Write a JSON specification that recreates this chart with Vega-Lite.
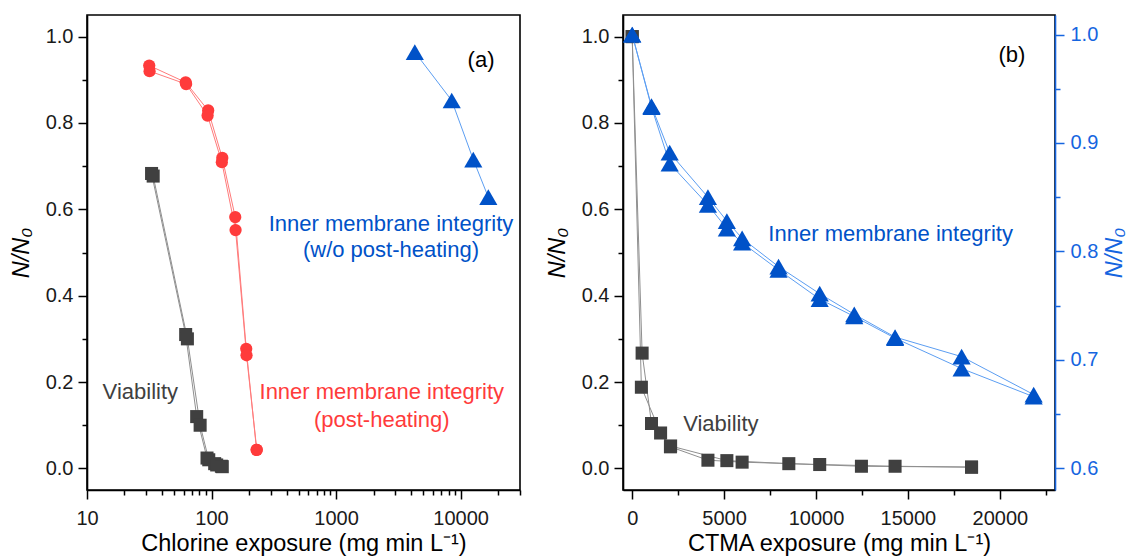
{
  "$schema": "https://vega.github.io/schema/vega-lite/v6.json",
  "padding": {"left": 8, "top": 14, "right": 0, "bottom": 0},
  "background": "white",
  "config": {
    "font": "Liberation Sans",
    "view": {"stroke": "#000000", "strokeWidth": 1.6},
    "axis": {
      "grid": false, "labelFlush": false, "labelOverlap": false,
      "labelFontSize": 20, "titleFontSize": 23.5, "titleFontWeight": "normal",
      "labelColor": "#1a1a1a", "titleColor": "#000000", "domainColor": "#000000", "tickColor": "#000000",
      "domainWidth": 1.6, "tickWidth": 1.5, "labelPadding": 5, "titlePadding": 6
    }
  },
  "datasets": {
    "a_pts": [
      {"series": "Viability", "rep": "v1", "x": 33, "y": 0.683},
      {"series": "Viability", "rep": "v1", "x": 62, "y": 0.31},
      {"series": "Viability", "rep": "v1", "x": 76, "y": 0.12},
      {"series": "Viability", "rep": "v1", "x": 92, "y": 0.024},
      {"series": "Viability", "rep": "v1", "x": 106, "y": 0.011},
      {"series": "Viability", "rep": "v1", "x": 120, "y": 0.005},
      {"series": "Viability", "rep": "v2", "x": 34, "y": 0.677},
      {"series": "Viability", "rep": "v2", "x": 64, "y": 0.30},
      {"series": "Viability", "rep": "v2", "x": 81, "y": 0.10},
      {"series": "Viability", "rep": "v2", "x": 95, "y": 0.02},
      {"series": "Viability", "rep": "v2", "x": 110, "y": 0.008},
      {"series": "Viability", "rep": "v2", "x": 122, "y": 0.004},
      {"series": "IMI post", "rep": "r1", "x": 31.6, "y": 0.933},
      {"series": "IMI post", "rep": "r1", "x": 62, "y": 0.894},
      {"series": "IMI post", "rep": "r1", "x": 94, "y": 0.829},
      {"series": "IMI post", "rep": "r1", "x": 122, "y": 0.719},
      {"series": "IMI post", "rep": "r1", "x": 155, "y": 0.582},
      {"series": "IMI post", "rep": "r1", "x": 190, "y": 0.277},
      {"series": "IMI post", "rep": "r1", "x": 230, "y": 0.043},
      {"series": "IMI post", "rep": "r2", "x": 31.8, "y": 0.92},
      {"series": "IMI post", "rep": "r2", "x": 62.5, "y": 0.89},
      {"series": "IMI post", "rep": "r2", "x": 93, "y": 0.817},
      {"series": "IMI post", "rep": "r2", "x": 121, "y": 0.709},
      {"series": "IMI post", "rep": "r2", "x": 156, "y": 0.552},
      {"series": "IMI post", "rep": "r2", "x": 191, "y": 0.262},
      {"series": "IMI post", "rep": "r2", "x": 231, "y": 0.043},
      {"series": "IMI wo", "rep": "b1", "x": 4290, "y": 0.964},
      {"series": "IMI wo", "rep": "b1", "x": 8490, "y": 0.852},
      {"series": "IMI wo", "rep": "b1", "x": 12650, "y": 0.715},
      {"series": "IMI wo", "rep": "b1", "x": 16700, "y": 0.628}
    ],
    "a_txt": [
      {"series": "label", "x": 14600, "y": 0.945, "t": "(a)"},
      {"series": "IMI wo", "x": 2760, "y": 0.567, "t": "Inner membrane integrity"},
      {"series": "IMI wo", "x": 2760, "y": 0.505, "t": "(w/o post-heating)"},
      {"series": "IMI post", "x": 2330, "y": 0.176, "t": "Inner membrane integrity"},
      {"series": "IMI post", "x": 2330, "y": 0.111, "t": "(post-heating)"},
      {"series": "Viability", "x": 26.8, "y": 0.176, "t": "Viability"}
    ],
    "b_via": [
      {"series": "Viability", "rep": "v1", "x": 0, "y": 1.0},
      {"series": "Viability", "rep": "v1", "x": 540, "y": 0.267},
      {"series": "Viability", "rep": "v1", "x": 1050, "y": 0.104},
      {"series": "Viability", "rep": "v1", "x": 2080, "y": 0.05},
      {"series": "Viability", "rep": "v1", "x": 4120, "y": 0.019},
      {"series": "Viability", "rep": "v1", "x": 5980, "y": 0.0145},
      {"series": "Viability", "rep": "v1", "x": 10200, "y": 0.009},
      {"series": "Viability", "rep": "v1", "x": 14300, "y": 0.005},
      {"series": "Viability", "rep": "v1", "x": 18460, "y": 0.003},
      {"series": "Viability", "rep": "v2", "x": 0, "y": 1.0},
      {"series": "Viability", "rep": "v2", "x": 500, "y": 0.188},
      {"series": "Viability", "rep": "v2", "x": 1545, "y": 0.082},
      {"series": "Viability", "rep": "v2", "x": 2090, "y": 0.052},
      {"series": "Viability", "rep": "v2", "x": 5150, "y": 0.018},
      {"series": "Viability", "rep": "v2", "x": 8520, "y": 0.011},
      {"series": "Viability", "rep": "v2", "x": 12470, "y": 0.005},
      {"series": "Viability", "rep": "v2", "x": 18460, "y": 0.003}
    ],
    "b_imi": [
      {"series": "IMI wo", "rep": "b1", "x": 0, "y": 1.0},
      {"series": "IMI wo", "rep": "b1", "x": 1050, "y": 0.934},
      {"series": "IMI wo", "rep": "b1", "x": 2040, "y": 0.891},
      {"series": "IMI wo", "rep": "b1", "x": 4120, "y": 0.85},
      {"series": "IMI wo", "rep": "b1", "x": 5150, "y": 0.828},
      {"series": "IMI wo", "rep": "b1", "x": 5980, "y": 0.812},
      {"series": "IMI wo", "rep": "b1", "x": 7960, "y": 0.786},
      {"series": "IMI wo", "rep": "b1", "x": 10200, "y": 0.761},
      {"series": "IMI wo", "rep": "b1", "x": 12080, "y": 0.742},
      {"series": "IMI wo", "rep": "b1", "x": 14300, "y": 0.721},
      {"series": "IMI wo", "rep": "b1", "x": 17920, "y": 0.703},
      {"series": "IMI wo", "rep": "b1", "x": 21840, "y": 0.668},
      {"series": "IMI wo", "rep": "b2", "x": 0, "y": 1.0},
      {"series": "IMI wo", "rep": "b2", "x": 1050, "y": 0.933},
      {"series": "IMI wo", "rep": "b2", "x": 2040, "y": 0.881},
      {"series": "IMI wo", "rep": "b2", "x": 4120, "y": 0.843},
      {"series": "IMI wo", "rep": "b2", "x": 5150, "y": 0.821},
      {"series": "IMI wo", "rep": "b2", "x": 5980, "y": 0.808},
      {"series": "IMI wo", "rep": "b2", "x": 7960, "y": 0.783},
      {"series": "IMI wo", "rep": "b2", "x": 10200, "y": 0.756},
      {"series": "IMI wo", "rep": "b2", "x": 12080, "y": 0.74},
      {"series": "IMI wo", "rep": "b2", "x": 14300, "y": 0.72},
      {"series": "IMI wo", "rep": "b2", "x": 17920, "y": 0.692},
      {"series": "IMI wo", "rep": "b2", "x": 21840, "y": 0.666}
    ],
    "b_txt": [
      {"series": "label", "x": 20660, "y": 0.957, "t": "(b)"},
      {"series": "IMI wo", "x": 14060, "y": 0.543, "t": "Inner membrane integrity"},
      {"series": "Viability", "x": 4825, "y": 0.102, "t": "Viability"}
    ]
  },
  "hconcat": [
    {
      "width": 433, "height": 475,
      "encoding": {
        "x": {"field": "x", "type": "quantitative",
          "scale": {"type": "log", "domain": [10, 30000], "nice": false},
          "axis": {"title": "Chlorine exposure (mg min L⁻¹)", "labelPadding": 9, "titlePadding": 3,
            "values": [10,20,30,40,50,60,70,80,90,100,200,300,400,500,600,700,800,900,1000,2000,3000,4000,5000,6000,7000,8000,9000,10000,20000,30000],
            "labelExpr": "(datum.value==10||datum.value==100||datum.value==1000||datum.value==10000) ? format(datum.value,'d') : ''",
            "tickSize": {"condition": {"test": "datum.value==10||datum.value==100||datum.value==1000||datum.value==10000", "value": 9}, "value": 5}}},
        "y": {"field": "y", "type": "quantitative",
          "scale": {"domain": [-0.05, 1.05], "nice": false, "zero": false},
          "axis": {"title": "N/N₀", "titleFontStyle": "italic", "titlePadding": 12,
            "values": [0,0.1,0.2,0.3,0.4,0.5,0.6,0.7,0.8,0.9,1.0],
            "labelExpr": "round(datum.value*10)%2==0 ? format(datum.value,'.1f') : ''",
            "tickSize": {"condition": {"test": "round(datum.value*10)%2==0", "value": 9}, "value": 5}}}
      },
      "layer": [
        {"data": {"name": "a_pts"}, "mark": {"type": "line", "strokeWidth": 1},
          "encoding": {"stroke": {"field": "series", "type": "nominal", "legend": null,
            "scale": {"domain": ["Viability","IMI post","IMI wo","label"], "range": ["#8f8f8f","#ff7b7b","#5c9ef2","#000000"]}},
            "detail": {"field": "rep"}}},
        {"data": {"name": "a_pts"}, "mark": {"type": "point", "filled": true, "opacity": 1, "strokeWidth": 0},
          "encoding": {"fill": {"field": "series", "type": "nominal", "legend": null,
            "scale": {"domain": ["Viability","IMI post","IMI wo","label"], "range": ["#404040","#ff3b3b","#0052c8","#000000"]}},
            "shape": {"field": "series", "type": "nominal", "legend": null,
            "scale": {"domain": ["Viability","IMI post","IMI wo"], "range": ["square","circle","triangle-up"]}},
            "size": {"field": "series", "type": "nominal", "legend": null,
            "scale": {"type": "ordinal", "domain": ["Viability","IMI post","IMI wo"], "range": [170, 150, 330]}}}},
        {"data": {"name": "a_txt"}, "mark": {"type": "text", "fontSize": 22, "align": "center", "baseline": "middle"},
          "encoding": {"text": {"field": "t"},
            "fill": {"field": "series", "type": "nominal", "legend": null}}}
      ]
    },
    {
      "width": 432, "height": 475,
      "encoding": {
        "x": {"field": "x", "type": "quantitative",
          "scale": {"domain": [-500, 23000], "nice": false, "zero": false},
          "axis": {"title": "CTMA exposure (mg min L⁻¹)", "labelPadding": 9, "titlePadding": 3,
            "values": [0,2500,5000,7500,10000,12500,15000,17500,20000,22500],
            "labelExpr": "datum.value%5000==0 ? format(datum.value,'d') : ''",
            "tickSize": {"condition": {"test": "datum.value%5000==0", "value": 9}, "value": 5}}}
      },
      "layer": [
        {
          "encoding": {"y": {"field": "y", "type": "quantitative",
            "scale": {"domain": [-0.05, 1.05], "nice": false, "zero": false},
            "axis": {"title": "N/N₀", "titleFontStyle": "italic", "titlePadding": 12,
              "values": [0,0.1,0.2,0.3,0.4,0.5,0.6,0.7,0.8,0.9,1.0],
              "labelExpr": "round(datum.value*10)%2==0 ? format(datum.value,'.1f') : ''",
              "tickSize": {"condition": {"test": "round(datum.value*10)%2==0", "value": 9}, "value": 5}}}},
          "layer": [
            {"data": {"name": "b_via"}, "mark": {"type": "line", "strokeWidth": 1},
              "encoding": {"stroke": {"field": "series", "type": "nominal", "legend": null,
                "scale": {"domain": ["Viability","IMI post","IMI wo","label"], "range": ["#8f8f8f","#ff7b7b","#5c9ef2","#000000"]}},
                "detail": {"field": "rep"}}},
            {"data": {"name": "b_via"}, "mark": {"type": "point", "filled": true, "opacity": 1, "strokeWidth": 0},
              "encoding": {"fill": {"field": "series", "type": "nominal", "legend": null,
                "scale": {"domain": ["Viability","IMI post","IMI wo","label"], "range": ["#404040","#ff3b3b","#0052c8","#000000"]}},
                "shape": {"field": "series", "type": "nominal", "legend": null,
                "scale": {"domain": ["Viability","IMI post","IMI wo"], "range": ["square","circle","triangle-up"]}},
                "size": {"field": "series", "type": "nominal", "legend": null,
                "scale": {"type": "ordinal", "domain": ["Viability","IMI post","IMI wo"], "range": [150, 150, 310]}}}},
            {"data": {"name": "b_txt"}, "mark": {"type": "text", "fontSize": 22, "align": "center", "baseline": "middle"},
              "encoding": {"text": {"field": "t"},
                "fill": {"field": "series", "type": "nominal", "legend": null}}}
          ]
        },
        {
          "encoding": {"y": {"field": "y", "type": "quantitative",
            "scale": {"domain": [0.58, 1.018], "nice": false, "zero": false},
            "axis": {"orient": "right", "title": "N/N₀", "titleFontStyle": "italic", "titleAngle": 270, "titleBaseline": "top", "titlePadding": 5, "labelPadding": 6,
              "domainColor": "#1565e0", "tickColor": "#1565e0", "labelColor": "#1565e0", "titleColor": "#1565e0",
              "values": [0.6,0.65,0.7,0.75,0.8,0.85,0.9,0.95,1.0],
              "labelExpr": "round(datum.value*20)%2==0 ? format(datum.value,'.1f') : ''",
              "tickSize": {"condition": {"test": "round(datum.value*20)%2==0", "value": 9}, "value": 5}}}},
          "layer": [
            {"data": {"name": "b_imi"}, "mark": {"type": "line", "strokeWidth": 1},
              "encoding": {"stroke": {"field": "series", "type": "nominal", "legend": null,
                "scale": {"domain": ["Viability","IMI post","IMI wo","label"], "range": ["#8f8f8f","#ff7b7b","#5c9ef2","#000000"]}},
                "detail": {"field": "rep"}}},
            {"data": {"name": "b_imi"}, "mark": {"type": "point", "filled": true, "opacity": 1, "strokeWidth": 0},
              "encoding": {"fill": {"field": "series", "type": "nominal", "legend": null,
                "scale": {"domain": ["Viability","IMI post","IMI wo","label"], "range": ["#404040","#ff3b3b","#0052c8","#000000"]}},
                "shape": {"field": "series", "type": "nominal", "legend": null,
                "scale": {"domain": ["Viability","IMI post","IMI wo"], "range": ["square","circle","triangle-up"]}},
                "size": {"field": "series", "type": "nominal", "legend": null,
                "scale": {"type": "ordinal", "domain": ["Viability","IMI post","IMI wo"], "range": [150, 150, 310]}}}}
          ]
        }
      ],
      "resolve": {"scale": {"y": "independent"}}
    }
  ],
  "spacing": 22
}
